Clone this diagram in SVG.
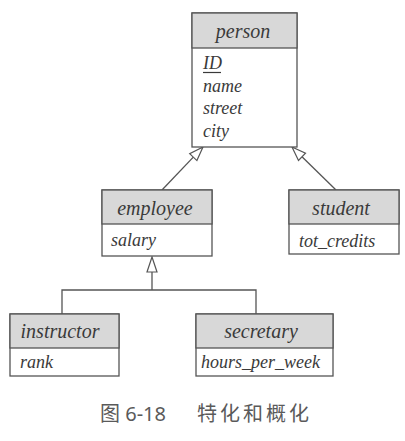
<svg xmlns="http://www.w3.org/2000/svg" width="405" height="441" viewBox="0 0 405 441">
<style>
.box{fill:#fff;stroke:#555;stroke-width:1.3}
.hd{fill:#d8d8d8;stroke:#555;stroke-width:1.3}
.t{font-family:"Liberation Serif",serif;font-style:italic;fill:#3a3a3a}
.h{font-size:20px;text-anchor:middle}
.a{font-size:18px}
.ln{fill:none;stroke:#555;stroke-width:1.3}
.ar{fill:#fff;stroke:#555;stroke-width:1.2;stroke-linejoin:miter}
.cap{font-family:"Noto Sans","Noto Sans CJK SC",sans-serif;font-size:20px;fill:#5a5a5a}
</style>
<rect width="405" height="441" fill="#fff"/>
<g id="connectors">
<line class="ln" x1="162" y1="190" x2="193.3" y2="157.1"/>
<polygon class="ar" points="203,147 196.9,160.6 189.7,153.7"/>
<line class="ln" x1="336" y1="190" x2="302" y2="156.8"/>
<polygon class="ar" points="292,147 305.5,153.2 298.5,160.4"/>
<polyline class="ln" points="152,272 152,290"/>
<polyline class="ln" points="62,314 62,290 256,290 256,314"/>
<polygon class="ar" points="152,257 147,272 157,272"/>
</g>
<g id="person">
<rect class="box" x="192" y="13" width="105" height="134"/>
<rect class="hd" x="192" y="13" width="105" height="35"/>
<text class="t h" x="243" y="38">person</text>
<text class="t a" x="203" y="69">ID</text>
<line x1="203" y1="72.5" x2="221" y2="72.5" stroke="#3a3a3a" stroke-width="1.2"/>
<text class="t a" x="203" y="91.5">name</text>
<text class="t a" x="203" y="114">street</text>
<text class="t a" x="203" y="136.5">city</text>
</g>
<g id="employee">
<rect class="box" x="102" y="190" width="110" height="66"/>
<rect class="hd" x="102" y="190" width="110" height="34"/>
<text class="t h" x="155" y="215">employee</text>
<text class="t a" x="111" y="246">salary</text>
</g>
<g id="student">
<rect class="box" x="289" y="190" width="110" height="64"/>
<rect class="hd" x="289" y="190" width="110" height="34"/>
<text class="t h" x="341" y="215">student</text>
<text class="t a" x="299" y="247">tot_credits</text>
</g>
<g id="instructor">
<rect class="box" x="10" y="314" width="109" height="62"/>
<rect class="hd" x="10" y="314" width="109" height="34"/>
<text class="t h" x="60" y="338">instructor</text>
<text class="t a" x="20" y="368">rank</text>
</g>
<g id="secretary">
<rect class="box" x="196" y="314" width="137" height="62"/>
<rect class="hd" x="196" y="314" width="137" height="34"/>
<text class="t h" x="261" y="338">secretary</text>
<text class="t a" x="201" y="368">hours_per_week</text>
</g>
<g id="caption">
<text class="cap" x="100" y="421">图 6-18</text>
<text class="cap" x="197" y="421" letter-spacing="3">特化和概化</text>
</g>
</svg>
